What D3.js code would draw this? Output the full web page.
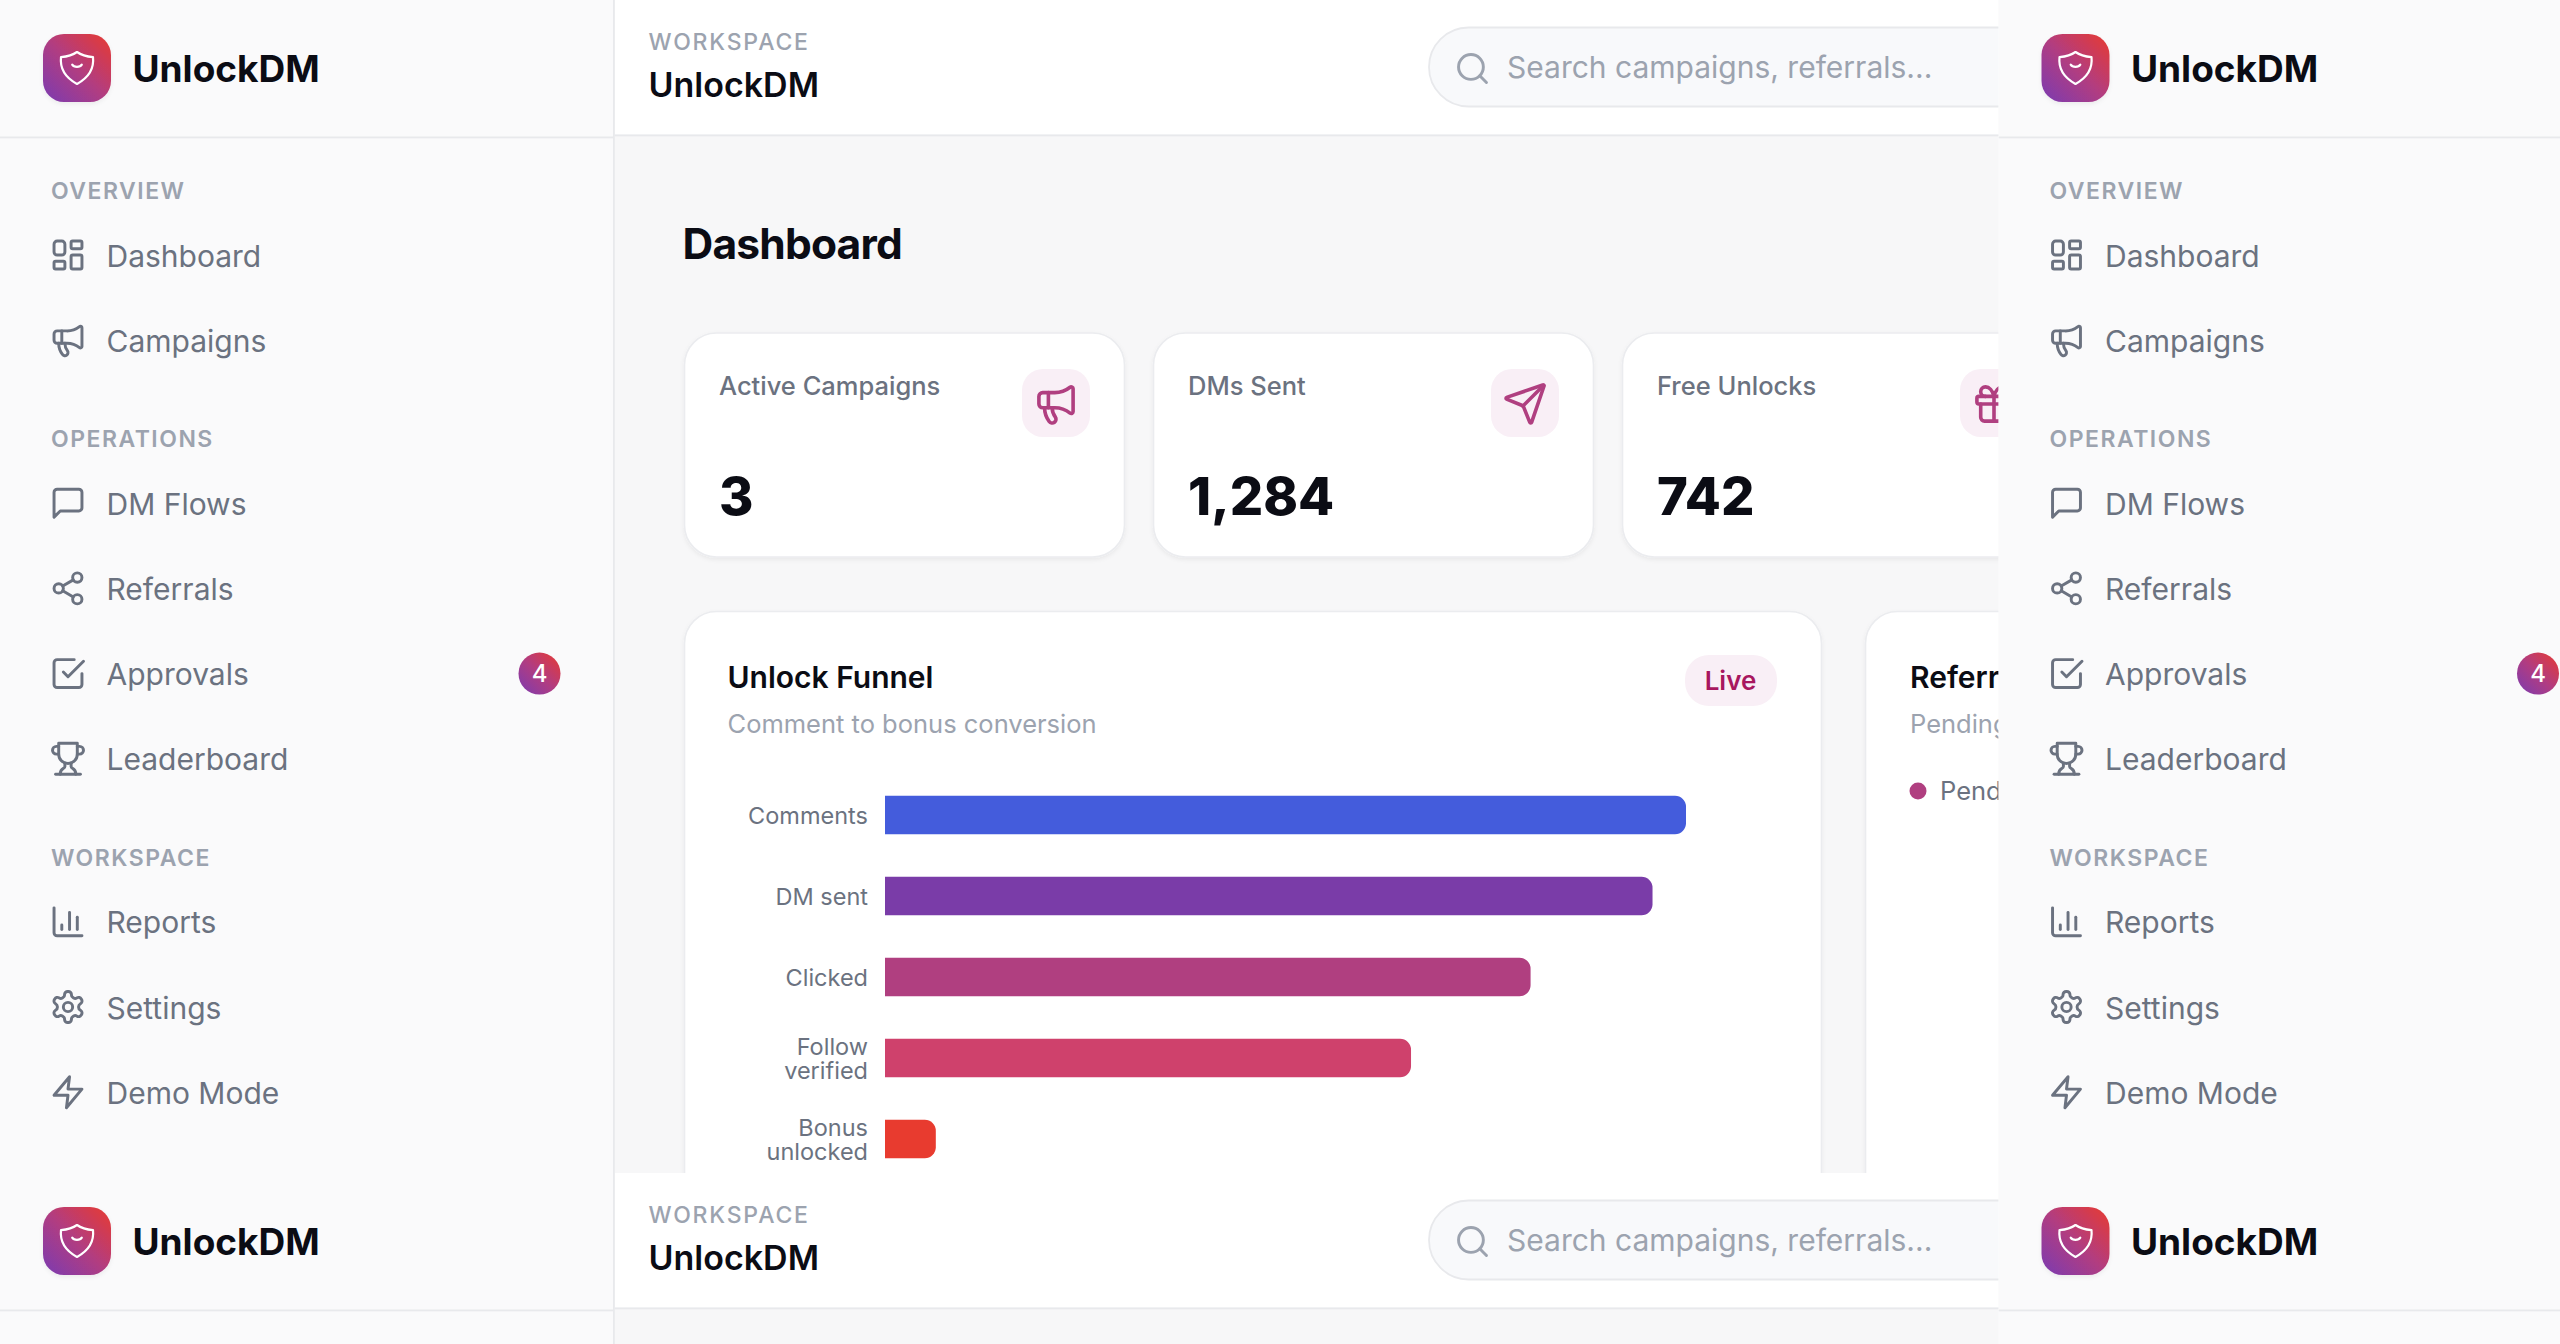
<!DOCTYPE html>
<html>
<head>
<meta charset="utf-8">
<script src="https://cdn.jsdelivr.net/npm/d3@7"></script>
<style>
  html, body { margin: 0; padding: 0; background: #fafafb; overflow: hidden; }
  svg { display: block; }
  text { font-family: Inter, "Noto Sans", sans-serif; }
</style>
</head>
<body>
<div id="chart"></div>
<script>
// the values
var brandName = "UnlockDM";
var navSections = ["OVERVIEW", "OPERATIONS", "WORKSPACE"];
var navLabels = [
    ["Dashboard", "Campaigns"],
    ["DM Flows", "Referrals", "Approvals", "Leaderboard"],
    ["Reports", "Settings", "Demo Mode"]
];
var navIcons = [
    ["dashboard", "megaphone"],
    ["message", "share", "check", "trophy"],
    ["bars", "settings", "zap"]
];
var approvalsCount = "4";
var statLabels = ["Active Campaigns", "DMs Sent", "Free Unlocks"];
var statValues = ["3", "1,284", "742"];
var statIcons = ["megaphone", "send", "gift"];
var funnelStages = ["Comments", "DM sent", "Clicked", "Follow verified", "Bonus unlocked"];
var funnelValues = [1340, 1284, 1080, 880, 85];
var funnelColors = ["#445cdc", "#7a3ca8", "#b03f80", "#cf416c", "#e83b2f"];

// lucide style icons, 24x24 box
var iconPaths = {
    dashboard: ["M5 3h3a2 2 0 0 1 2 2v5a2 2 0 0 1-2 2H5a2 2 0 0 1-2-2V5a2 2 0 0 1 2-2z",
        "M15 3h5a1 1 0 0 1 1 1v3a1 1 0 0 1-1 1h-5a1 1 0 0 1-1-1V4a1 1 0 0 1 1-1z",
        "M15 12h5a1 1 0 0 1 1 1v7a1 1 0 0 1-1 1h-5a1 1 0 0 1-1-1v-7a1 1 0 0 1 1-1z",
        "M4 16h5a1 1 0 0 1 1 1v3a1 1 0 0 1-1 1H4a1 1 0 0 1-1-1v-3a1 1 0 0 1 1-1z"],
    megaphone: ["M11 6a13 13 0 0 0 8.4-2.8A1 1 0 0 1 21 4v12a1 1 0 0 1-1.6.8A13 13 0 0 0 11 14H5a2 2 0 0 1-2-2V8a2 2 0 0 1 2-2z",
        "M6 14a12 12 0 0 0 2.4 7.2 2 2 0 0 0 3.2-2.4A8 8 0 0 1 10 14", "M8 6v8"],
    message: ["M21 15a2 2 0 0 1-2 2H7l-4 4V5a2 2 0 0 1 2-2h14a2 2 0 0 1 2 2z"],
    share: ["M21 5a3 3 0 1 1-6 0a3 3 0 1 1 6 0", "M9 12a3 3 0 1 1-6 0a3 3 0 1 1 6 0",
        "M21 19a3 3 0 1 1-6 0a3 3 0 1 1 6 0", "M8.59 13.51l6.83 3.98", "M15.41 6.51l-6.82 3.98"],
    check: ["m9 11 3 3L22 4", "M21 12v7a2 2 0 0 1-2 2H5a2 2 0 0 1-2-2V5a2 2 0 0 1 2-2h11"],
    trophy: ["M6 9H4.5a2.5 2.5 0 0 1 0-5H6", "M18 9h1.5a2.5 2.5 0 0 0 0-5H18", "M4 22h16",
        "M10 14.66V17c0 .55-.47.98-.97 1.21C7.85 18.75 7 20.24 7 22",
        "M14 14.66V17c0 .55.47.98.97 1.21C16.15 18.75 17 20.24 17 22",
        "M18 2H6v7a6 6 0 0 0 12 0V2Z"],
    bars: ["M3 3v16a2 2 0 0 0 2 2h16", "M8 17v-3", "M13 17V6", "M18 17V9"],
    settings: ["M12.22 2h-.44a2 2 0 0 0-2 2v.18a2 2 0 0 1-1 1.73l-.43.25a2 2 0 0 1-2 0l-.15-.08a2 2 0 0 0-2.73.73l-.22.38a2 2 0 0 0 .73 2.73l.15.1a2 2 0 0 1 1 1.72v.51a2 2 0 0 1-1 1.74l-.15.09a2 2 0 0 0-.73 2.73l.22.38a2 2 0 0 0 2.73.73l.15-.08a2 2 0 0 1 2 0l.43.25a2 2 0 0 1 1 1.73V20a2 2 0 0 0 2 2h.44a2 2 0 0 0 2-2v-.18a2 2 0 0 1 1-1.73l.43-.25a2 2 0 0 1 2 0l.15.08a2 2 0 0 0 2.73-.73l.22-.39a2 2 0 0 0-.73-2.73l-.15-.08a2 2 0 0 1-1-1.74v-.5a2 2 0 0 1 1-1.74l.15-.09a2 2 0 0 0 .73-2.73l-.22-.38a2 2 0 0 0-2.73-.73l-.15.08a2 2 0 0 1-2 0l-.43-.25a2 2 0 0 1-1-1.73V4a2 2 0 0 0-2-2z",
        "M15 12a3 3 0 1 1-6 0a3 3 0 1 1 6 0"],
    zap: ["M13 2 3 14h9l-1 8 10-12h-9l1-8z"],
    send: ["M14.536 21.686a.5.5 0 0 0 .937-.024l6.5-19a.496.496 0 0 0-.635-.635l-19 6.5a.5.5 0 0 0-.024.937l7.93 3.18a2 2 0 0 1 1.112 1.11z",
        "m21.854 2.147-10.94 10.939"],
    gift: ["M4 8h16a1 1 0 0 1 1 1v2a1 1 0 0 1-1 1H4a1 1 0 0 1-1-1V9a1 1 0 0 1 1-1z", "M12 8v13",
        "M19 12v7a2 2 0 0 1-2 2H7a2 2 0 0 1-2-2v-7",
        "M7.5 8a2.5 2.5 0 0 1 0-5A4.8 8 0 0 1 12 8a4.8 8 0 0 1 4.5-5 2.5 2.5 0 0 1 0 5"],
    search: ["M19 11a8 8 0 1 1-16 0a8 8 0 1 1 16 0", "m21 21-4.3-4.3"]
};

var width = 2560;
var height = 1344;
// the screenshot is one page repeated, it wraps at this size
var tileW = 1998.5;
var tileH = 1173;
var sideW = 613;
var inkDark = "#0b0c14";
var inkGrey = "#6b7280";
var inkSoft = "#9ca3af";
var line = "#e8e9ec";
var tint = "#f9eff6";
var magenta = "#b03f80";

var svg = d3.select("#chart").append("svg")
    .attr("width", width)
    .attr("height", height);

var defs = svg.append("defs");

var grad = defs.append("linearGradient")
    .attr("id", "brandGrad")
    .attr("x1", 0).attr("y1", 1)
    .attr("x2", 1).attr("y2", 0);
grad.append("stop").attr("offset", "0%").attr("stop-color", "#7a3bb2");
grad.append("stop").attr("offset", "50%").attr("stop-color", "#b23c80");
grad.append("stop").attr("offset", "100%").attr("stop-color", "#e83a30");

var soft = defs.append("filter").attr("id", "softShadow")
    .attr("x", "-10%").attr("y", "-10%").attr("width", "120%").attr("height", "125%");
soft.append("feDropShadow")
    .attr("dx", 0).attr("dy", 2).attr("stdDeviation", 2)
    .attr("flood-color", "#000").attr("flood-opacity", 0.06);

defs.append("clipPath").attr("id", "tileClip")
    .append("rect")
    .attr("width", tileW).attr("height", tileH);

function addIcon(g, name, cx, cy, scale, color, sw) {
    var icon = g.append("g")
        .attr("transform", "translate(" + (cx - 12 * scale) + "," + (cy - 12 * scale) + ") scale(" + scale + ")")
        .attr("fill", "none")
        .attr("stroke", color)
        .attr("stroke-width", sw)
        .attr("stroke-linecap", "round")
        .attr("stroke-linejoin", "round");
    iconPaths[name].forEach(function (d) {
        icon.append("path").attr("d", d);
    });
}

function addText(g, str, x, y, size, weight, color, spacing) {
    return g.append("text")
        .attr("x", x)
        .attr("y", y)
        .attr("font-size", size)
        .attr("font-weight", weight)
        .attr("fill", color)
        .attr("letter-spacing", spacing || 0)
        .text(str);
}

function addCard(g, x, y, w, h) {
    g.append("rect")
        .attr("x", x).attr("y", y)
        .attr("width", w).attr("height", h)
        .attr("rx", 32)
        .attr("fill", "#fff")
        .attr("stroke", "#ebecef")
        .attr("stroke-width", 1.6)
        .attr("filter", "url(#softShadow)");
}

function drawSidebar(g) {
    g.append("rect")
        .attr("width", sideW).attr("height", tileH)
        .attr("fill", "#fafafb");
    g.append("rect")
        .attr("x", sideW).attr("width", 1.8).attr("height", tileH)
        .attr("fill", line);
    g.append("rect")
        .attr("y", 136.5).attr("width", sideW).attr("height", 1.8)
        .attr("fill", line);

    // logo
    g.append("rect")
        .attr("x", 43).attr("y", 34)
        .attr("width", 68).attr("height", 68)
        .attr("rx", 21)
        .attr("fill", "url(#brandGrad)")
        .attr("filter", "url(#softShadow)");
    var mark = g.append("g")
        .attr("transform", "translate(53,44) scale(2)")
        .attr("fill", "none")
        .attr("stroke", "#fff")
        .attr("stroke-width", 1.1)
        .attr("stroke-linejoin", "round")
        .attr("stroke-linecap", "round");
    mark.append("path").attr("d", "M12 4c2 1.4 4.3 2.2 8 2.600.6 5.500-1.800 10-8 13.400C5.800 16.600 3.400 12.100 4 6.600 7.700 6.200 10 5.400 12 4z");
    mark.append("path").attr("d", "M9.600 10.300c.9 1.500 3.900 1.500 4.800 0");
    addText(g, brandName, 132.500, 81.500, 37, 700, inkDark, 0);

    // nav, section by section
    var y = 199;
    navSections.forEach(function (section, s) {
        addText(g, section, 51, y, 23, 600, inkSoft, 1.5);
        y += 66;
        navLabels[s].forEach(function (label, i) {
            addIcon(g, navIcons[s][i], 68, y - 10, 1.55, inkGrey, 1.9);
            addText(g, label, 106.500, y + 1.500, 30, 400, inkGrey);
            if (label == "Approvals") {
                g.append("circle")
                    .attr("cx", 539.500).attr("cy", y - 10)
                    .attr("r", 21)
                    .attr("fill", "url(#brandGrad)");
                addText(g, approvalsCount, 539.500, y - 1.500, 24, 500, "#fff")
                    .attr("text-anchor", "middle");
            }
            y += 85.200;
        });
        y += 97 - 85.200;
    });
}

function drawHeader(g) {
    g.append("rect")
        .attr("x", sideW).attr("width", tileW - sideW).attr("height", tileH)
        .attr("fill", "#f7f7f8");
    g.append("rect")
        .attr("x", sideW + 1.800).attr("width", tileW - sideW).attr("height", 134.500)
        .attr("fill", "#fff");
    g.append("rect")
        .attr("x", sideW + 1.800).attr("y", 134.500)
        .attr("width", tileW - sideW).attr("height", 1.800)
        .attr("fill", line);
    addText(g, "WORKSPACE", 648.500, 49.500, 23, 500, inkSoft, 1.800);
    addText(g, brandName, 648.500, 97, 34, 600, inkDark);

    // search box runs off the tile
    g.append("rect")
        .attr("x", 1429).attr("y", 27.500)
        .attr("width", 700).attr("height", 79)
        .attr("rx", 39.500)
        .attr("fill", "#f8f9fb")
        .attr("stroke", line)
        .attr("stroke-width", 1.800);
    addIcon(g, "search", 1472.500, 68.500, 1.55, inkSoft, 1.900);
    addText(g, "Search campaigns, referrals...", 1507, 78, 30, 400, inkSoft);
}

function drawStats(g) {
    addText(g, "Dashboard", 682.500, 259, 42.500, 700, inkDark, -0.800);
    statLabels.forEach(function (label, i) {
        var x = 684.500 + i * 469;
        addCard(g, x, 333, 440, 224);
        addText(g, label, x + 34.500, 395, 25.500, 500, inkGrey);
        addText(g, statValues[i], x + 34.500, 515, 52.500, 800, inkDark);
        g.append("rect")
            .attr("x", x + 337.500).attr("y", 369)
            .attr("width", 68).attr("height", 68)
            .attr("rx", 21)
            .attr("fill", tint);
        addIcon(g, statIcons[i], x + 371.500, 404, 1.9, magenta, 1.9);
    });
}

// bar with the right side rounded only
function barPath(x, y, w, h, r) {
    var p = d3.path();
    r = Math.min(r, w);
    p.moveTo(x, y);
    p.lineTo(x + w - r, y);
    p.arcTo(x + w, y, x + w, y + r, r);
    p.lineTo(x + w, y + h - r);
    p.arcTo(x + w, y + h, x + w - r, y + h, r);
    p.lineTo(x, y + h);
    p.closePath();
    return p.toString();
}

function wrapLabel(sel, maxWidth) {
    sel.each(function () {
        var el = d3.select(this);
        var str = el.text();
        if (this.getComputedTextLength() <= maxWidth) return;
        var words = str.split(" ");
        el.text(null);
        words.forEach(function (w, i) {
            el.append("tspan")
                .attr("x", el.attr("x"))
                .attr("dy", i == 0 ? "-0.18em" : "1em")
                .text(w);
        });
    });
}

function drawFunnel(g) {
    addCard(g, 684.500, 611.500, 1137, 700);
    addText(g, "Unlock Funnel", 727.500, 687.500, 30, 600, inkDark);
    addText(g, "Comment to bonus conversion", 727.500, 732.500, 25.500, 400, inkSoft);

    g.append("rect")
        .attr("x", 1685).attr("y", 655)
        .attr("width", 92).attr("height", 51)
        .attr("rx", 24)
        .attr("fill", tint);
    addText(g, "Live", 1730.500, 690, 26, 600, "#a8175f")
        .attr("text-anchor", "middle");

    var x = d3.scaleLinear()
        .domain([0, d3.max(funnelValues)])
        .range([885, 1686]);
    var y = d3.scaleBand()
        .domain(funnelStages)
        .range([774.500, 1179.500])
        .paddingInner(0.525)
        .paddingOuter(0.2625);

    var axis = g.append("g")
        .attr("transform", "translate(885,1.500)")
        .call(d3.axisLeft(y).tickSize(0).tickPadding(17));
    axis.select(".domain").remove();
    axis.selectAll("text")
        .attr("font-size", 23.500)
        .attr("font-family", "Inter")
        .attr("fill", inkGrey)
        .call(wrapLabel, 130);

    g.selectAll(".bar")
        .data(funnelStages)
        .enter().append("path")
        .attr("class", "bar")
        .attr("d", function (d, i) {
            return barPath(x(0), y(d), x(funnelValues[i]) - x(0), y.bandwidth(), 11);
        })
        .attr("fill", function (d, i) { return funnelColors[i]; });
}

function drawReferrals(g) {
    addCard(g, 1865.500, 611.500, 600, 700);
    addText(g, "Referral Status", 1910, 687.500, 30, 600, inkDark);
    addText(g, "Pending vs approved", 1910, 732.500, 25.500, 400, inkSoft);
    g.append("circle")
        .attr("cx", 1918).attr("cy", 791)
        .attr("r", 8.500)
        .attr("fill", magenta);
    addText(g, "Pending", 1940, 800, 25.500, 400, inkGrey);
}

function drawTile(ox, oy) {
    var g = svg.append("g")
        .attr("transform", "translate(" + ox + "," + oy + ")")
        .attr("clip-path", "url(#tileClip)");
    drawHeader(g);
    drawStats(g);
    drawFunnel(g);
    drawReferrals(g);
    drawSidebar(g);
}

[0, tileH].forEach(function (oy) {
    [0, tileW].forEach(function (ox) {
        drawTile(ox, oy);
    });
});
</script>
</body>
</html>
